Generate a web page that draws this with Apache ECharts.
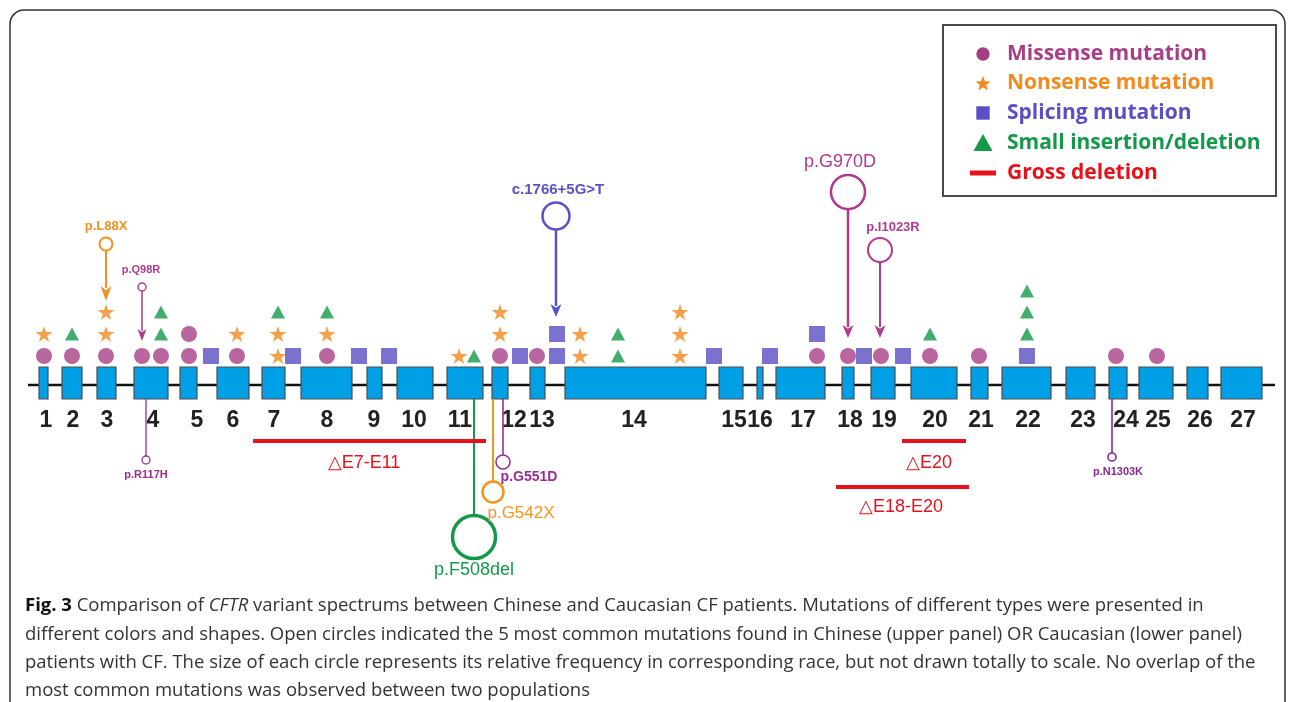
<!DOCTYPE html>
<html><head><meta charset="utf-8">
<script src="https://cdn.jsdelivr.net/npm/echarts@6/dist/echarts.min.js"></script>
<style>html,body{margin:0;padding:0;background:#fff}#c{width:1290px;height:702px}</style>
</head><body><div id="c"></div>
<script>
// ================= DATA =================
const exonNames  = ['1','2','3','4','5','6','7','8','9','10','11','12','13','14','15','16','17','18','19','20','21','22','23','24','25','26','27'];
const exonStart  = [39,62,97,134,180,217,262,301,367,397,447,492,530,565,719,757,776,842,871,911,971,1002,1066,1109,1139,1187,1221];
const exonEnd    = [48,82,116,168,197,249,285,352,382,433,483,508,545,706,743,763,825,854,895,957,988,1051,1095,1127,1173,1208,1262];
const exonLabelX = [46,73,107,153,197,233,274,327,374,414,460,514,542,634,734,760,803,850,884,935,981,1028,1083,1126,1158,1200,1243];
const backboneRange = [28,1275];

// mutations: position along gene + stacking level
const missenseX      = [44,72,106,142,161,189,189,237,327,500,537,817,848,881,930,979,1116,1157];
const missenseLevel  = [1,1,1,1,1,1,2,1,1,1,1,1,1,1,1,1,1,1];
const nonsenseX      = [44,106,106,237,278,278,327,459,500,500,580,580,680,680,680];
const nonsenseLevel  = [2,2,3,2,1,2,2,1,2,3,1,2,1,2,3];
const splicingX      = [211,293,359,389,520,557,557,714,770,817,864,903,1027];
const splicingLevel  = [1,1,1,1,1,1,2,1,1,2,1,1,1];
const indelX         = [72,161,161,278,327,474,618,618,930,1027,1027,1027];
const indelLevel     = [2,2,3,3,3,1,1,2,2,2,3,4];

// most common mutations (open circles; size ~ relative frequency)
const chineseNames   = ['p.L88X','p.Q98R','c.1766+5G>T','p.G970D','p.I1023R'];
const chineseX       = [106,142,556,848,880];
const chineseFreq    = [6.5,4,13.5,17,12];
const caucasianNames = ['p.R117H','p.F508del','p.G542X','p.G551D','p.N1303K'];
const caucasianX     = [146,474,493,503,1112];
const caucasianFreq  = [4,21.5,10.5,7,4];

// gross deletions
const deletionNames  = ['\u25B3E7-E11','\u25B3E20','\u25B3E18-E20'];
const deletionStart  = [253,902,836];
const deletionEnd    = [486,966,969];

const legendNames = ['Missense mutation','Nonsense mutation','Splicing mutation','Small insertion/deletion','Gross deletion'];

// ================= LAYOUT / STYLE =================
const COL = {mis:'#A83F86', non:'#F28A1E', spl:'#5A4FC4', ind:'#139A48', del:'#E8111B', exon:'#00A0E6'};
const SANS = '"Liberation Sans", Arial, sans-serif';
const L = {
  backboneY:385, boxTop:367, boxBottom:399, labelY:421,
  levelY:[null,356,334,312,291],
  upper:{
    circleY:[244,287,216,192,250], labelY:[226,270,190,162,227], labelDX:[0,-1,2,-8,13],
    tipY:[301,341,317,338,338],
    color:['#F39020','#B03A8C','#5653C6','#B03A8C','#B03A8C'],
    lw:[2,1.5,2.5,2.5,2],
    head:[[11,15],[9,12],[11,13],[11,13],[11,13]],
    font:['bold 13px '+SANS,'bold 11px '+SANS,'bold 15px '+SANS,'18px '+SANS,'bold 13px '+SANS]
  },
  lower:{
    circleY:[460,537,492,462,457], labelX:[146,474,521,529,1118], labelY:[475,570,513,477,472],
    startY:399,
    color:['#9C2C8F','#139A48','#F7941D','#992D9A','#8C278C'],
    lw:[1.3,3.5,2.5,1.6,1.6],
    font:['bold 11px '+SANS,'18px '+SANS,'17px '+SANS,'bold 14px '+SANS,'bold 11px '+SANS]
  },
  del:{lineY:[441,441,487], labelX:[364,929,901], labelY:[463,463,507]}
};
const STAR = 'path://M50,2 L61.2,36.5 L97.6,36.5 L68.2,57.9 L79.4,92.4 L50,71 L20.6,92.4 L31.8,57.9 L2.4,36.5 L38.8,36.5 Z';
function pts(xs, lv){ return xs.map((x,i)=>[x, L.levelY[lv[i]]]); }
function starPoints(cx, cy, R){ const r=R*0.42, p=[]; for(let k=0;k<10;k++){const a=-Math.PI/2+k*Math.PI/5, rr=k%2?r:R; p.push([cx+rr*Math.cos(a), cy+rr*Math.sin(a)]);} return p; }

const chart = echarts.init(document.getElementById('c'));

// legend graphics
const legRows=[54,83,113,143,173], legIconX=983, legTextX=1007;
const legColors=[COL.mis, COL.non, COL.spl, COL.ind, COL.del];
const legendG=[{type:'rect', shape:{x:943,y:25,width:333,height:171}, style:{fill:'#fff', stroke:'#4a4a4a', lineWidth:2}, z:1}];
legendG.push({type:'circle', shape:{cx:legIconX, cy:legRows[0], r:6.7}, style:{fill:COL.mis}, z:2});
legendG.push({type:'polygon', shape:{points:starPoints(legIconX, legRows[1]+1, 8)}, style:{fill:COL.non}, z:2});
legendG.push({type:'rect', shape:{x:legIconX-6.7, y:legRows[2]-6.7, width:13.4, height:13.4}, style:{fill:COL.spl}, z:2});
legendG.push({type:'polygon', shape:{points:[[legIconX-9.5,legRows[3]+8],[legIconX+9.5,legRows[3]+8],[legIconX,legRows[3]-9]]}, style:{fill:COL.ind}, z:2});
legendG.push({type:'rect', shape:{x:legIconX-13, y:legRows[4]-2.5, width:26, height:5}, style:{fill:COL.del}, z:2});
legendNames.forEach((n,i)=>legendG.push({type:'text', x:legTextX, y:legRows[i], z:2,
  style:{text:n, fill:legColors[i], font:'bold 21px "Open Sans", sans-serif', align:'left', verticalAlign:'middle', textAlign:'left', textVerticalAlign:'middle'}}));

// caption
const CAP_FONT = '18.5px "Open Sans", sans-serif';
const capLines = [
  null,
  'different colors and shapes. Open circles indicated the 5 most common mutations found in Chinese (upper panel) OR Caucasian (lower panel)',
  'patients with CF. The size of each circle represents its relative frequency in corresponding race, but not drawn totally to scale. No overlap of the',
  'most common mutations was observed between two populations'
];
const capY=[606,635,663,691];
const captionG=[];
captionG.push({type:'text', x:25, y:capY[0], style:{
  text:'{b|Fig. 3} Comparison of {i|CFTR} variant spectrums between Chinese and Caucasian CF patients. Mutations of different types were presented in',
  font:CAP_FONT, fill:'#333', verticalAlign:'middle', textVerticalAlign:'middle',
  rich:{b:{font:'bold 18.5px "Open Sans", sans-serif', fill:'#111'}, i:{font:'italic 18.5px "Open Sans", sans-serif', fill:'#333'}}
}});
for(let k=1;k<4;k++) captionG.push({type:'text', x:25, y:capY[k], style:{text:capLines[k], font:CAP_FONT, fill:'#333', verticalAlign:'middle', textVerticalAlign:'middle'}});

const option = {
  animation:false,
  backgroundColor:'#fff',
  grid:{left:0,right:0,top:0,bottom:0},
  xAxis:{type:'value', min:0, max:1290, show:false},
  yAxis:{type:'value', min:0, max:702, inverse:true, show:false},
  graphic:[
    {type:'rect', shape:{x:10,y:10,width:1275,height:730,r:14}, style:{fill:'none', stroke:'#333', lineWidth:1.5}, z:0},
    ...legendG, ...captionG
  ],
  series:[
    {type:'line', name:'backbone', data:backboneRange.map(x=>[x, L.backboneY]), symbol:'none', lineStyle:{color:'#111', width:2.5}, z:1, silent:true},
    {type:'custom', name:'exons', z:2, data:exonNames.map((n,i)=>[exonStart[i], exonEnd[i]]),
      renderItem(p, api){
        const a=api.coord([api.value(0), L.boxTop]), b=api.coord([api.value(1), L.boxBottom]);
        return {type:'rect', shape:{x:a[0], y:a[1], width:b[0]-a[0], height:b[1]-a[1]}, style:{fill:COL.exon, stroke:'#4d4d4d', lineWidth:1.2}};
      }},
    {type:'custom', name:'exonLabels', z:2, data:exonNames.map((n,i)=>[exonLabelX[i], L.labelY]),
      renderItem(p, api){
        const c=api.coord([api.value(0), api.value(1)]);
        return {type:'text', x:c[0], y:c[1], style:{text:exonNames[p.dataIndex], font:'bold 23px '+SANS, fill:'#222', align:'center', verticalAlign:'middle', textAlign:'center', textVerticalAlign:'middle'}};
      }},
    {type:'scatter', name:'Missense', z:3, data:pts(missenseX, missenseLevel), symbol:'circle', symbolSize:16, itemStyle:{color:COL.mis}},
    {type:'scatter', name:'Nonsense', z:3, data:pts(nonsenseX, nonsenseLevel), symbol:STAR, symbolSize:17, symbolKeepAspect:true, itemStyle:{color:COL.non}},
    {type:'scatter', name:'Splicing', z:3, data:pts(splicingX, splicingLevel), symbol:'rect', symbolSize:16, itemStyle:{color:COL.spl}},
    {type:'scatter', name:'Indel', z:3, data:pts(indelX, indelLevel), symbol:'triangle', symbolSize:[14,13], itemStyle:{color:COL.ind}},
    {type:'custom', name:'chinese', z:4, data:chineseX.map((x,i)=>[x, chineseFreq[i]]),
      renderItem(p, api){
        const i=p.dataIndex, U=L.upper, x=api.value(0), r=api.value(1), col=U.color[i], lw=U.lw[i], h=U.head[i];
        const c=api.coord([x, U.circleY[i]]), t=api.coord([x, U.tipY[i]]), lb=api.coord([x+U.labelDX[i], U.labelY[i]]);
        return {type:'group', children:[
          {type:'circle', shape:{cx:c[0], cy:c[1], r:r}, style:{fill:'none', stroke:col, lineWidth:lw}},
          {type:'line', shape:{x1:c[0], y1:c[1]+r, x2:t[0], y2:t[1]-h[1]+2}, style:{stroke:col, lineWidth:lw}},
          {type:'polygon', shape:{points:[[t[0]-h[0]/2, t[1]-h[1]],[t[0], t[1]-h[1]*0.72],[t[0]+h[0]/2, t[1]-h[1]],[t[0], t[1]]]}, style:{fill:col}},
          {type:'text', x:lb[0], y:lb[1], style:{text:chineseNames[i], fill:col, font:U.font[i], align:'center', verticalAlign:'middle', textAlign:'center', textVerticalAlign:'middle'}}
        ]};
      }},
    {type:'custom', name:'caucasian', z:4, data:caucasianX.map((x,i)=>[x, caucasianFreq[i]]),
      renderItem(p, api){
        const i=p.dataIndex, D=L.lower, x=api.value(0), r=api.value(1), col=D.color[i], lw=D.lw[i];
        const c=api.coord([x, D.circleY[i]]), s=api.coord([x, D.startY]), lb=api.coord([D.labelX[i], D.labelY[i]]);
        return {type:'group', children:[
          {type:'line', shape:{x1:s[0], y1:s[1], x2:c[0], y2:c[1]-r}, style:{stroke:col, lineWidth:Math.min(lw,2)}},
          {type:'circle', shape:{cx:c[0], cy:c[1], r:r}, style:{fill:'none', stroke:col, lineWidth:lw}},
          {type:'text', x:lb[0], y:lb[1], style:{text:caucasianNames[i], fill:col, font:D.font[i], align:'center', verticalAlign:'middle', textAlign:'center', textVerticalAlign:'middle'}}
        ]};
      }},
    {type:'custom', name:'Gross deletion', z:4, data:deletionNames.map((n,i)=>[deletionStart[i], deletionEnd[i]]),
      renderItem(p, api){
        const i=p.dataIndex, a=api.coord([api.value(0), L.del.lineY[i]]), b=api.coord([api.value(1), L.del.lineY[i]]), lb=api.coord([L.del.labelX[i], L.del.labelY[i]]);
        return {type:'group', children:[
          {type:'line', shape:{x1:a[0], y1:a[1], x2:b[0], y2:b[1]}, style:{stroke:COL.del, lineWidth:4}},
          {type:'text', x:lb[0], y:lb[1], style:{text:deletionNames[i], fill:COL.del, font:'18px '+SANS, align:'center', verticalAlign:'middle', textAlign:'center', textVerticalAlign:'middle'}}
        ]};
      }}
  ]
};
chart.setOption(option);
</script></body></html>
